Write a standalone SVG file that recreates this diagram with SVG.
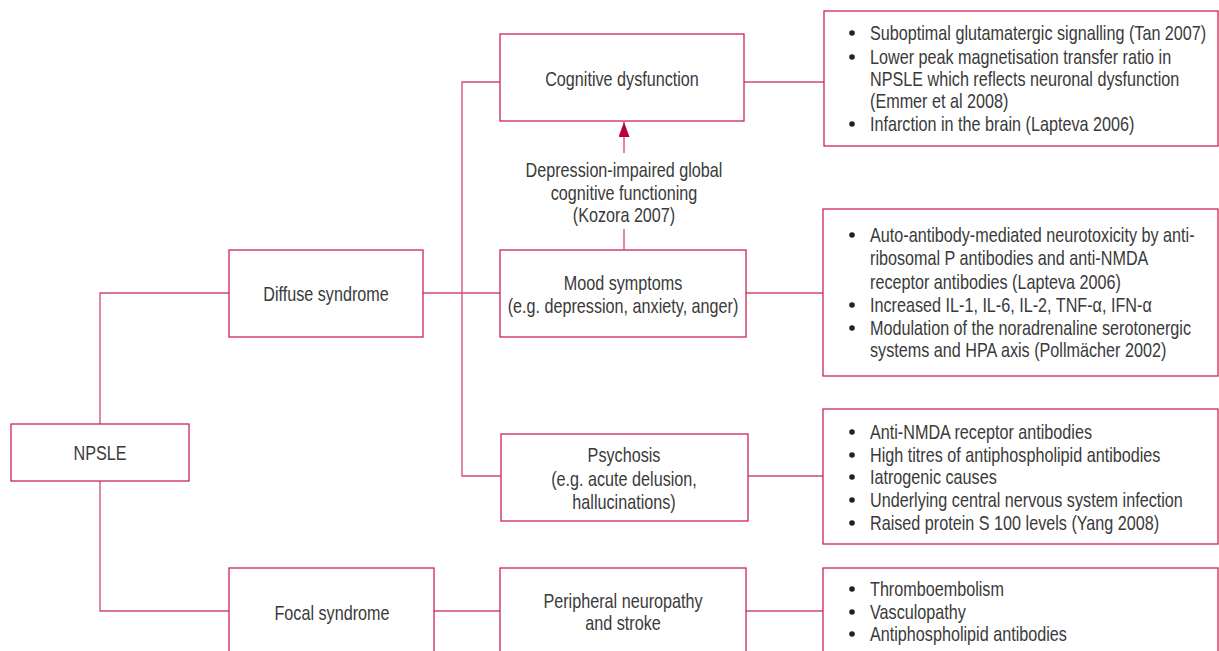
<svg xmlns="http://www.w3.org/2000/svg" width="1219" height="651" viewBox="0 0 1219 651">
<style>
  .box{fill:#fff;stroke:#cc2455;stroke-width:1.3}
  .ln{fill:none;stroke:#d04a74;stroke-width:1.3}
  text{font-family:"Liberation Sans",Arial,sans-serif;font-size:19.5px;fill:#3a3a3a}
  .c{text-anchor:middle}
  .b{fill:#222}
</style>
<defs>
  <marker id="ah" markerUnits="userSpaceOnUse" markerWidth="16" markerHeight="12" refX="15" refY="5.5" orient="auto">
    <path d="M0,0 L15,5.5 L0,11 z" fill="#b8003c"/>
  </marker>
</defs>
<g id="connectors">
  <path class="ln" d="M100 424 V293 H229"/>
  <path class="ln" d="M100 481 V611 H229"/>
  <path class="ln" d="M423 293 H500"/>
  <path class="ln" d="M500 82 H462 V476 H501"/>
  <path class="ln" d="M744 82 H824"/>
  <path class="ln" d="M746 293 H823"/>
  <path class="ln" d="M748 476 H823"/>
  <path class="ln" d="M434 611 H500"/>
  <path class="ln" d="M746 611 H823"/>
  <path class="ln" d="M624 250 V229"/>
  <path class="ln" d="M624 153 V122" marker-end="url(#ah)"/>
  <g id="arrow-label" transform="translate(624,0) scale(0.83,1)">
    <text class="c" x="0" y="177">Depression-impaired global</text>
    <text class="c" x="0" y="200">cognitive functioning</text>
    <text class="c" x="0" y="222">(Kozora 2007)</text>
  </g>
</g>
<g id="npsle">
  <rect class="box" x="11" y="424" width="178" height="57"/>
  <text class="c" transform="translate(100,0) scale(0.83,1)" x="0" y="460">NPSLE</text>
</g>
<g id="diffuse">
  <rect class="box" x="229" y="250" width="194" height="87"/>
  <text class="c" transform="translate(326,0) scale(0.83,1)" x="0" y="301">Diffuse syndrome</text>
</g>
<g id="focal">
  <rect class="box" x="229" y="568" width="205" height="95"/>
  <text class="c" transform="translate(332,0) scale(0.83,1)" x="0" y="620">Focal syndrome</text>
</g>
<g id="cognitive">
  <rect class="box" x="500" y="34" width="244" height="87"/>
  <text class="c" transform="translate(622,0) scale(0.83,1)" x="0" y="86">Cognitive dysfunction</text>
</g>
<g id="mood">
  <rect class="box" x="500" y="250" width="246" height="87"/>
  <g transform="translate(623,0) scale(0.83,1)">
    <text class="c" x="0" y="290">Mood symptoms</text>
    <text class="c" x="0" y="313">(e.g. depression, anxiety, anger)</text>
  </g>
</g>
<g id="psychosis">
  <rect class="box" x="501" y="434" width="247" height="87"/>
  <g transform="translate(624,0) scale(0.83,1)">
    <text class="c" x="0" y="462">Psychosis</text>
    <text class="c" x="0" y="486">(e.g. acute delusion,</text>
    <text class="c" x="0" y="509">hallucinations)</text>
  </g>
</g>
<g id="peripheral">
  <rect class="box" x="500" y="568" width="246" height="95"/>
  <g transform="translate(623,0) scale(0.83,1)">
    <text class="c" x="0" y="608">Peripheral neuropathy</text>
    <text class="c" x="0" y="630">and stroke</text>
  </g>
</g>
<g id="cognitive-causes">
  <rect class="box" x="824" y="11" width="394" height="135"/>
  <circle class="b" cx="852" cy="33" r="2.8"/>
  <circle class="b" cx="852" cy="57" r="2.8"/>
  <circle class="b" cx="852" cy="124" r="2.8"/>
  <g transform="translate(870,0) scale(0.83,1)">
    <text x="0" y="40">Suboptimal glutamatergic signalling (Tan 2007)</text>
    <text x="0" y="64">Lower peak magnetisation transfer ratio in</text>
    <text x="0" y="86">NPSLE which reflects neuronal dysfunction</text>
    <text x="0" y="108">(Emmer et al 2008)</text>
    <text x="0" y="131">Infarction in the brain (Lapteva 2006)</text>
  </g>
</g>
<g id="mood-causes">
  <rect class="box" x="823" y="209" width="395" height="167"/>
  <circle class="b" cx="852" cy="235" r="2.8"/>
  <circle class="b" cx="852" cy="305" r="2.8"/>
  <circle class="b" cx="852" cy="328" r="2.8"/>
  <g transform="translate(870,0) scale(0.83,1)">
    <text x="0" y="242">Auto-antibody-mediated neurotoxicity by anti-</text>
    <text x="0" y="265">ribosomal P antibodies and anti-NMDA</text>
    <text x="0" y="289">receptor antibodies (Lapteva 2006)</text>
    <text x="0" y="312">Increased IL-1, IL-6, IL-2, TNF-α, IFN-α</text>
    <text x="0" y="335">Modulation of the noradrenaline serotonergic</text>
    <text x="0" y="357">systems and HPA axis (Pollmächer 2002)</text>
  </g>
</g>
<g id="psychosis-causes">
  <rect class="box" x="823" y="409" width="395" height="135"/>
  <circle class="b" cx="852" cy="432" r="2.8"/>
  <circle class="b" cx="852" cy="455" r="2.8"/>
  <circle class="b" cx="852" cy="477" r="2.8"/>
  <circle class="b" cx="852" cy="500" r="2.8"/>
  <circle class="b" cx="852" cy="523" r="2.8"/>
  <g transform="translate(870,0) scale(0.83,1)">
    <text x="0" y="439">Anti-NMDA receptor antibodies</text>
    <text x="0" y="462">High titres of antiphospholipid antibodies</text>
    <text x="0" y="484">Iatrogenic causes</text>
    <text x="0" y="507">Underlying central nervous system infection</text>
    <text x="0" y="530">Raised protein S 100 levels (Yang 2008)</text>
  </g>
</g>
<g id="focal-causes">
  <rect class="box" x="823" y="568" width="395" height="95"/>
  <circle class="b" cx="852" cy="589" r="2.8"/>
  <circle class="b" cx="852" cy="612" r="2.8"/>
  <circle class="b" cx="852" cy="634" r="2.8"/>
  <g transform="translate(870,0) scale(0.83,1)">
    <text x="0" y="596">Thromboembolism</text>
    <text x="0" y="619">Vasculopathy</text>
    <text x="0" y="641">Antiphospholipid antibodies</text>
  </g>
</g>
</svg>
